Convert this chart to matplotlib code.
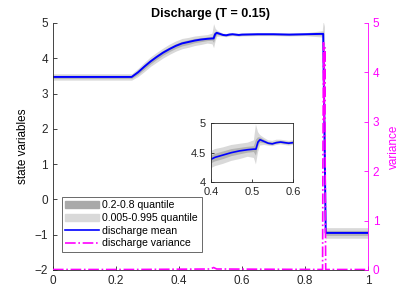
import numpy as np
import matplotlib
matplotlib.use("Agg")
import matplotlib.pyplot as plt
from matplotlib.patches import Patch
from matplotlib.lines import Line2D

plt.rcParams['font.family'] = ['Liberation Sans', 'DejaVu Sans']
plt.rcParams['font.size'] = 8.5

# grid positions
x = [0, 0.25, 0.27, 0.29, 0.31, 0.33, 0.35, 0.37, 0.39, 0.41,
     0.43, 0.45, 0.47, 0.49, 0.505, 0.51, 0.515, 0.52, 0.53, 0.54,
     0.55, 0.56, 0.57, 0.58, 0.59, 0.6, 0.65, 0.7, 0.75, 0.8,
     0.855, 0.858, 0.862, 0.866, 0.87, 1]
mean = [3.47, 3.47, 3.60, 3.76, 3.91, 4.04, 4.16, 4.26, 4.35, 4.42,
        4.46, 4.50, 4.53, 4.55, 4.56, 4.56, 4.68, 4.72, 4.69, 4.66,
        4.65, 4.67, 4.68, 4.67, 4.66, 4.67, 4.68, 4.68, 4.67, 4.68,
        4.69, 4.69, 1.9, -0.95, -0.95, -0.95]
q20 = [3.43, 3.43, 3.54, 3.69, 3.84, 3.97, 4.09, 4.19, 4.28, 4.35,
       4.39, 4.44, 4.47, 4.50, 4.51, 4.45, 4.60, 4.67, 4.66, 4.64,
       4.63, 4.65, 4.66, 4.65, 4.64, 4.65, 4.66, 4.66, 4.65, 4.66,
       4.66, 4.60, 1.0, -1.02, -1.02, -1.02]
q80 = [3.51, 3.51, 3.65, 3.82, 3.97, 4.10, 4.22, 4.32, 4.41, 4.48,
       4.52, 4.56, 4.58, 4.60, 4.61, 4.72, 4.76, 4.76, 4.72, 4.68,
       4.67, 4.69, 4.70, 4.69, 4.68, 4.69, 4.70, 4.70, 4.69, 4.70,
       4.72, 4.80, 2.8, -0.88, -0.88, -0.88]
q005 = [3.38, 3.38, 3.48, 3.62, 3.77, 3.89, 4.01, 4.11, 4.20, 4.27,
        4.31, 4.36, 4.39, 4.43, 4.41, 4.30, 4.50, 4.62, 4.63, 4.62,
        4.61, 4.63, 4.64, 4.63, 4.62, 4.63, 4.64, 4.64, 4.63, 4.64,
        4.60, 4.40, -0.5, -1.12, -1.10, -1.10]
q995 = [3.56, 3.56, 3.71, 3.88, 4.04, 4.17, 4.29, 4.40, 4.49, 4.56,
        4.59, 4.63, 4.65, 4.67, 4.71, 4.98, 4.85, 4.80, 4.75, 4.71,
        4.70, 4.72, 4.72, 4.71, 4.70, 4.71, 4.72, 4.72, 4.71, 4.72,
        4.78, 5.05, 4.9, -0.78, -0.80, -0.80]

var_x = [0, 0.25, 0.5, 0.51, 0.52, 0.856, 0.857, 0.859, 0.861, 0.863, 0.865, 0.866, 1]
var = [0.01, 0.01, 0.02, 0.05, 0.02, 0.01, 2.0, 4.6, 3.0, 4.5, 1.0, 0.01, 0.01]

c_in = '#b3b3b3'
c_out = '#d9d9d9'
c_ax = '#262626'
mag = '#ff00ff'


def draw(ax, lw):
    ax.fill_between(x, q005, q995, color=c_out, lw=0)
    ax.fill_between(x, q20, q80, color=c_in, lw=0)
    ax.plot(x, mean, color='#0000ff', lw=lw)


fig = plt.figure(figsize=(4.07, 3.05), dpi=100)
ax = fig.add_axes([0.130, 0.1148, 0.774, 0.81])
draw(ax, 1.4)
ax.set_xlim(0, 1)
ax.set_ylim(-2, 5)
ax.set_xticks([0, 0.2, 0.4, 0.6, 0.8, 1])
ax.set_xticklabels(['0', '0.2', '0.4', '0.6', '0.8', '1'])
ax.set_yticks(range(-2, 6))
ax.tick_params(direction='in', length=3, colors=c_ax, width=0.6)
ax.spines['top'].set_visible(False)
ax.spines['right'].set_visible(False)
for s in ['left', 'bottom']:
    ax.spines[s].set_color(c_ax)
    ax.spines[s].set_linewidth(0.6)
ax.set_ylabel('state variables', color='black', labelpad=4)
ax.set_title('Discharge (T = 0.15)', fontweight='bold', fontsize=9, pad=4)

ax2 = ax.twinx()
ax2.plot(var_x, var, color=mag, lw=1.2, ls='-.')
ax2.set_ylim(0, 5)
ax2.set_yticks(range(0, 6))
ax2.tick_params(direction='in', length=3, colors=mag, width=0.6)
for s in ['left', 'top', 'bottom']:
    ax2.spines[s].set_visible(False)
ax2.spines['right'].set_color(mag)
ax2.spines['right'].set_linewidth(0.6)
ax2.set_ylabel('variance', color=mag, labelpad=6)

handles = [Patch(color='#a9a9a9'), Patch(color=c_out),
           Line2D([], [], color='#0000ff', lw=1.2),
           Line2D([], [], color=mag, lw=1.2, ls='-.')]
labels = ['0.2-0.8 quantile', '0.005-0.995 quantile',
          'discharge mean', 'discharge variance']
leg = ax2.legend(handles, labels, loc='lower left', bbox_to_anchor=(0.028, 0.073),
                 fontsize=7.6, frameon=True, fancybox=False, handlelength=3.2,
                 handletextpad=0.3, borderpad=0.35, labelspacing=0.25,
                 borderaxespad=0)
leg.get_frame().set_edgecolor(c_ax)
leg.get_frame().set_linewidth(0.6)

ins = fig.add_axes([0.518, 0.403, 0.2015, 0.193])
draw(ins, 1.2)
ins.set_xlim(0.4, 0.6)
ins.set_ylim(4, 5)
ins.set_xticks([0.4, 0.5, 0.6])
ins.set_yticks([4, 4.5, 5])
ins.set_yticklabels(['4', '4.5', '5'])
ins.tick_params(direction='in', length=2, colors=c_ax, width=0.6, labelsize=8)
for s in ins.spines.values():
    s.set_color(c_ax)
    s.set_linewidth(0.6)

fig.savefig('out.png', dpi=100)
